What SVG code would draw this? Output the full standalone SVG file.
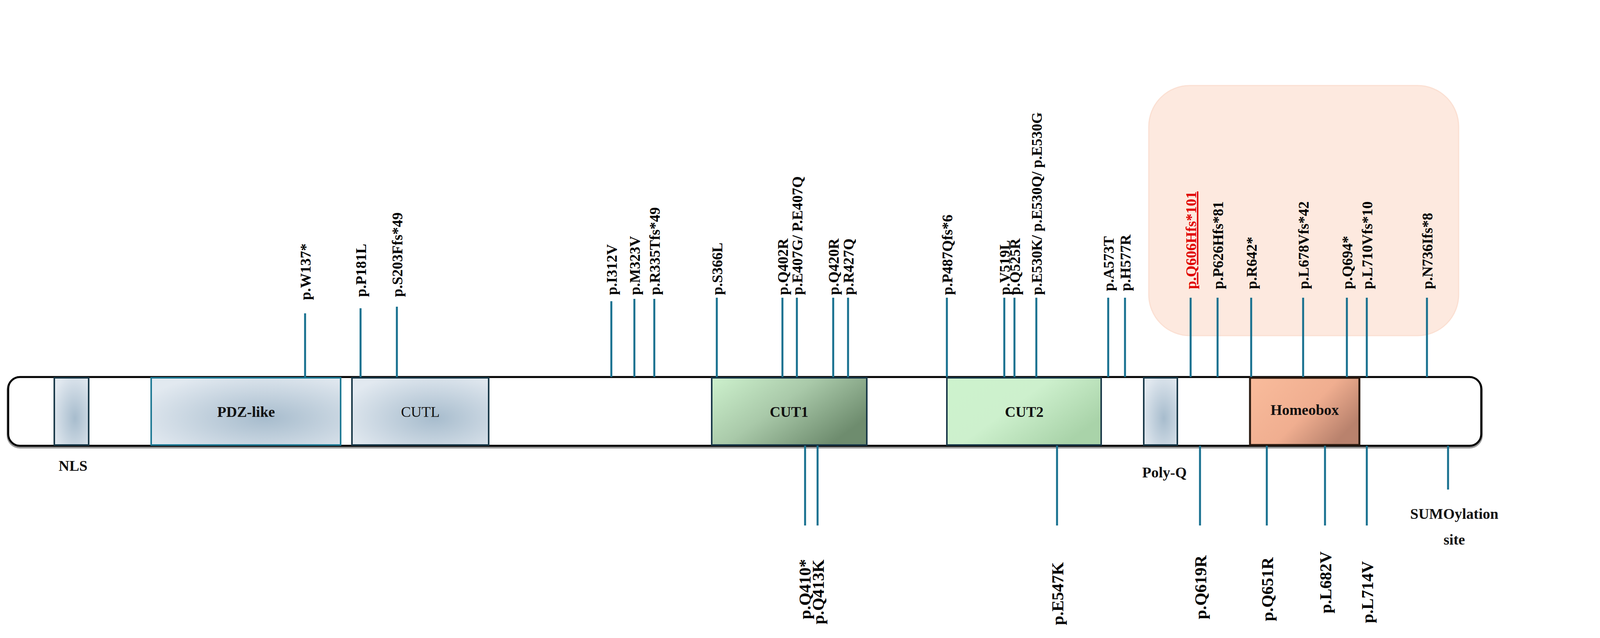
<svg xmlns="http://www.w3.org/2000/svg" width="4182" height="1633" viewBox="0 0 4182 1633">
<style>
.ln{stroke:#17708f;stroke-width:5;fill:none}
.lb{font-family:"Liberation Serif",serif;font-weight:bold;font-size:38px;fill:#000}
.lbb{font-family:"Liberation Serif",serif;font-weight:bold;font-size:43px;fill:#000}
.dm{font-family:"Liberation Serif",serif;font-size:38px;fill:#111;text-anchor:middle}
</style>
<defs>
<radialGradient id="gb" cx="0.6" cy="0.6" r="0.7"><stop offset="0" stop-color="#a7bccd"/><stop offset="1" stop-color="#e2e9f0"/></radialGradient>
<linearGradient id="gc1" x1="0" y1="0" x2="1" y2="0.6"><stop offset="0" stop-color="#cdf1cd"/><stop offset="0.5" stop-color="#a9c9a9"/><stop offset="1" stop-color="#6e8c6e"/></linearGradient>
<linearGradient id="gc2" x1="0" y1="0" x2="1" y2="0.6"><stop offset="0" stop-color="#cdf3cd"/><stop offset="0.5" stop-color="#cdf0cd"/><stop offset="1" stop-color="#a9d3a9"/></linearGradient>
<linearGradient id="gh" x1="0" y1="0" x2="1" y2="0.6"><stop offset="0" stop-color="#f9bc9c"/><stop offset="0.6" stop-color="#f0ae90"/><stop offset="1" stop-color="#b9826d"/></linearGradient>
</defs>
<rect x="2941" y="219" width="793" height="640" rx="105" fill="#fde9df" stroke="#fbe0d3" stroke-width="3"/>
<g id="protein">
<rect x="21" y="968" width="3771" height="176" rx="30" fill="none" stroke="#999" stroke-width="8"/>
<rect x="21" y="965" width="3771" height="176" rx="30" fill="#fff" stroke="#000" stroke-width="5"/>
</g>
<g id="NLS"><rect x="139" y="967" width="88" height="172" fill="url(#gb)" stroke="#1b3a4a" stroke-width="4"/><text class="dm" x="187" y="1205" font-weight="bold">NLS</text></g>
<g id="PDZ"><rect x="387" y="967" width="485" height="172" fill="url(#gb)" stroke="#1f7a95" stroke-width="4"/><text class="dm" x="630" y="1067" font-weight="bold">PDZ-like</text></g>
<g id="CUTL"><rect x="901" y="967" width="350" height="172" fill="url(#gb)" stroke="#1b3a4a" stroke-width="4"/><text class="dm" x="1076" y="1067">CUTL</text></g>
<g id="CUT1"><rect x="1822" y="967" width="397" height="172" fill="url(#gc1)" stroke="#1b3a4a" stroke-width="4"/><text class="dm" x="2020" y="1067" font-weight="bold">CUT1</text></g>
<g id="CUT2"><rect x="2424" y="967" width="395" height="172" fill="url(#gc2)" stroke="#1b3a4a" stroke-width="4"/><text class="dm" x="2622" y="1067" font-weight="bold">CUT2</text></g>
<g id="PolyQ"><rect x="2928" y="967" width="86" height="172" fill="url(#gb)" stroke="#1b3a4a" stroke-width="4"/><text class="dm" x="2981" y="1222" font-weight="bold">Poly-Q</text></g>
<g id="Homeobox"><rect x="3200" y="967" width="280" height="172" fill="url(#gh)" stroke="#2a1a10" stroke-width="5"/><text class="dm" x="3340" y="1062" font-weight="bold" font-size="30">Homeobox</text></g>
<g id="SUMO"><text class="dm" x="3723" y="1328" font-weight="bold" font-size="52">SUMOylation</text><text class="dm" x="3723" y="1394" font-weight="bold" font-size="52">site</text></g>
<text x="4100" y="1135" font-family="Liberation Sans,sans-serif" font-size="52" fill="#000">D</text>
<g id="connectors">
<path class="ln" d="M781 802V965M923 789V965M1016 785V965M1565 771V965M1624 765V965M1675 765V965M1835 762V965M2003 762V965M2040 762V965M2133 762V965M2171 762V965M2424 762V965M2571 762V965M2597 762V965M2837 762V965M2880 762V965M3048 762V965M3117 762V965M3203 762V965M3336 762V965M3448 762V965M3499 762V965"/>
<path class="ln" d="M2653 762V965" stroke="#5d9ab2"/>
<path class="ln" d="M3653 762V965" stroke="#7fb0c3"/>
<path class="ln" d="M2061 1141V1345M2093 1141V1345M2706 1141V1345M3072 1141V1345M3243 1141V1345M3392 1141V1345M3499 1141V1345M3707 1141V1253"/>
</g>
<g id="labels-top" class="lb">
<text transform="translate(795,768) rotate(-90)">p.W137*</text>
<text transform="translate(937,760) rotate(-90)">p.P181L</text>
<text transform="translate(1030,760) rotate(-90)">p.S203Ffs*49</text>
<text transform="translate(1579,755) rotate(-90)">p.I312V</text>
<text transform="translate(1638,755) rotate(-90)">p.M323V</text>
<text transform="translate(1689,755) rotate(-90)">p.R335Tfs*49</text>
<text transform="translate(1849,755) rotate(-90)">p.S366L</text>
<text transform="translate(2017,755) rotate(-90)">p.Q402R</text>
<text transform="translate(2054,755) rotate(-90)">p.E407G/ P.E407Q</text>
<text transform="translate(2147,755) rotate(-90)">p.Q420R</text>
<text transform="translate(2185,755) rotate(-90)">p.R427Q</text>
<text transform="translate(2438,755) rotate(-90)">p.P487Qfs*6</text>
<text transform="translate(2585,755) rotate(-90)">p.V519L</text>
<text transform="translate(2611,755) rotate(-90)">p.Q525R</text>
<text transform="translate(2667,755) rotate(-90)">p.E530K/ p.E530Q/ p.E530G</text>
<text transform="translate(2851,745) rotate(-90)">p.A573T</text>
<text transform="translate(2894,745) rotate(-90)">p.H577R</text>
<text transform="translate(3062,740) rotate(-90)" fill="#e00000" text-decoration="underline">p.Q606Hfs*101</text>
<text transform="translate(3131,740) rotate(-90)">p.P626Hfs*81</text>
<text transform="translate(3217,740) rotate(-90)">p.R642*</text>
<text transform="translate(3350,740) rotate(-90)">p.L678Vfs*42</text>
<text transform="translate(3462,740) rotate(-90)">p.Q694*</text>
<text transform="translate(3513,740) rotate(-90)">p.L710Vfs*10</text>
<text transform="translate(3667,740) rotate(-90)">p.N736Ifs*8</text>
</g>
<g id="labels-bottom" class="lbb">
<text transform="translate(2075,1585) rotate(-90)">p.Q410*</text>
<text transform="translate(2109,1598) rotate(-90)">p.Q413K</text>
<text transform="translate(2722,1600) rotate(-90)">p.E547K</text>
<text transform="translate(3088,1585) rotate(-90)">p.Q619R</text>
<text transform="translate(3259,1590) rotate(-90)">p.Q651R</text>
<text transform="translate(3408,1570) rotate(-90)">p.L682V</text>
<text transform="translate(3515,1595) rotate(-90)">p.L714V</text>
</g>
</svg>
